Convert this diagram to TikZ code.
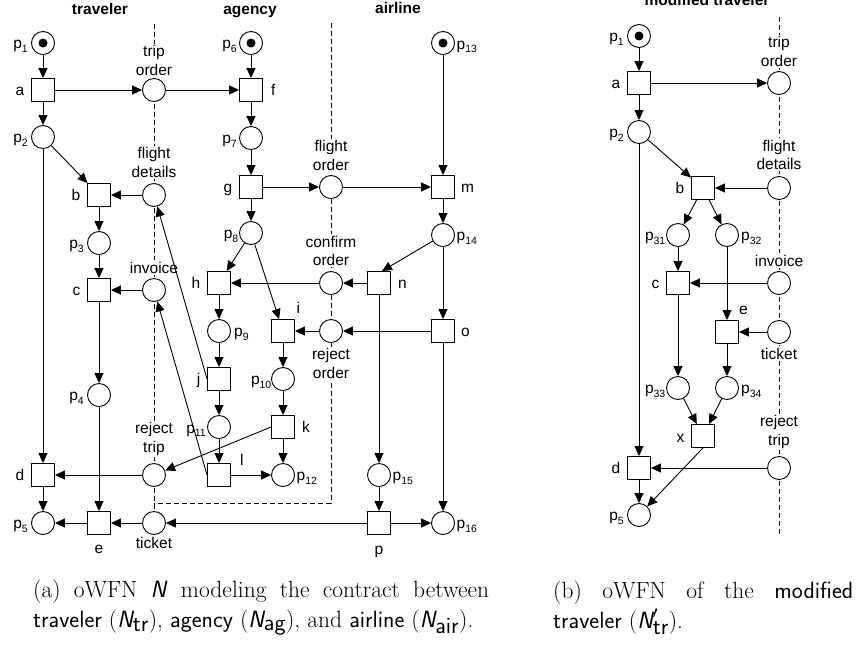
\documentclass[tikz,border=0pt]{standalone}
\usepackage{fontspec}
\newfontfamily\lab{Liberation Sans}
\usetikzlibrary{arrows.meta,calc}
\newcommand\pp[1]{p\raisebox{-3.5pt}{\fontsize{10.5}{10.5}\selectfont #1}}
\tikzset{
  place/.style={circle,draw,fill=white,minimum size=23pt,inner sep=0pt,line width=0.9pt},
  trans/.style={rectangle,draw,fill=white,minimum size=23pt,inner sep=0pt,line width=0.9pt},
  arc/.style={-{Triangle[length=10pt,width=9pt]},line width=0.9pt},
  iface/.style={line width=0.9pt,dash pattern=on 5pt off 3pt},
  lbl/.style={font=\lab\fontsize{15.5}{18.5}\selectfont,inner sep=0pt,align=center},
  ilbl/.style={lbl,fill=white,inner sep=1.5pt,anchor=base},
  ttl/.style={font=\lab\bfseries\fontsize{15.5}{18.5}\selectfont,inner sep=0pt,anchor=base},
}
\begin{document}
\begin{tikzpicture}[x=1pt,y=-1pt]
\useasboundingbox (0,0) rectangle (859,645);
% interface separators
\draw[iface] (154,24) -- (154,523);
\draw[iface] (331,23) -- (331,503) -- (154,503);
\draw[iface] (779,17) -- (779,535);
% titles
\node[ttl] (t1) at (100,14) {traveler};
\node[ttl] (t2) at (250,14) {agency};
\node[ttl] (t3) at (398,13) {airline};
\node[ttl] (t4) at (707,5.5) {modified traveler};
% ---- net (a)
\node[place] (p1) at (43,43) {};
\node[trans] (a) at (43,90) {};
\node[place] (to1) at (154,90) {};
\node[place] (p2) at (43,137) {};
\node[trans] (b) at (99,195) {};
\node[place] (fd1) at (154,195) {};
\node[place] (p3) at (99,243) {};
\node[trans] (c) at (99,290) {};
\node[place] (inv1) at (154,290) {};
\node[place] (p4) at (99,395) {};
\node[trans] (d) at (43,475) {};
\node[place] (rt1) at (154,475) {};
\node[place] (p5) at (43,523) {};
\node[trans] (e) at (99,523) {};
\node[place] (tk1) at (154,523) {};
\node[place] (p6) at (251,43) {};
\node[trans] (f) at (251,90) {};
\node[place] (p7) at (251,138) {};
\node[trans] (g) at (251,187) {};
\node[place] (fo) at (331,187) {};
\node[place] (p8) at (251,233) {};
\node[trans] (h) at (219,283) {};
\node[place] (co) at (331,283) {};
\node[trans] (i) at (283,331) {};
\node[place] (ro) at (331,331) {};
\node[place] (p9) at (219,331) {};
\node[trans] (j) at (219,379) {};
\node[place] (p10) at (283,379) {};
\node[place] (p11) at (219,427) {};
\node[trans] (k) at (283,427) {};
\node[trans] (l) at (219,475) {};
\node[place] (p12) at (283,475) {};
\node[place] (p13) at (443,43) {};
\node[trans] (m) at (443,187) {};
\node[place] (p14) at (443,235) {};
\node[trans] (n) at (379,283) {};
\node[trans] (o) at (443,331) {};
\node[place] (p15) at (379,475) {};
\node[trans] (p) at (379,523) {};
\node[place] (p16) at (443,523) {};
% tokens
\fill (p1) circle (4.5pt);
\fill (p6) circle (4.5pt);
\fill (p13) circle (4.5pt);
% labels (a)
\node[lbl,anchor=base east] (lp1) at (28,48.5) {\pp{1}};
\node[lbl,anchor=base east] (la) at (24.5,95) {a};
\node[lbl,anchor=base east] (lp2) at (28,142.5) {\pp{2}};
\node[lbl,anchor=base east] (lb) at (80.5,200) {b};
\node[lbl,anchor=base east] (lp3) at (84,248.5) {\pp{3}};
\node[lbl,anchor=base east] (lc) at (80.5,295) {c};
\node[lbl,anchor=base east] (lp4) at (84,400.5) {\pp{4}};
\node[lbl,anchor=base east] (ld) at (24.5,480) {d};
\node[lbl,anchor=base east] (lp5) at (28,528.5) {\pp{5}};
\node[lbl,anchor=base] (le) at (99,553) {e};
\node[lbl,anchor=base east] (lp6) at (237,48.5) {\pp{6}};
\node[lbl,anchor=base west] (lf) at (271,95) {f};
\node[lbl,anchor=base east] (lp7) at (237,143.5) {\pp{7}};
\node[lbl,anchor=base east] (lg) at (232.5,192) {g};
\node[lbl,anchor=base east] (lp8) at (238.5,238.5) {\pp{8}};
\node[lbl,anchor=base east] (lh) at (200.5,288) {h};
\node[lbl,anchor=base west] (lp9) at (234,336.5) {\pp{9}};
\node[lbl,anchor=base west] (li) at (296.5,313) {i};
\node[lbl,anchor=base east] (lj) at (200.5,384) {j};
\node[lbl,anchor=base east] (lp10) at (271.5,384.5) {\pp{10}};
\node[lbl,anchor=base east] (lp11) at (206,433) {\pp{11}};
\node[lbl,anchor=base west] (lk) at (302,432) {k};
\node[lbl,anchor=base west] (ll) at (240,465) {l};
\node[lbl,anchor=base west] (lp12) at (296.5,480.5) {\pp{12}};
\node[lbl,anchor=base west] (lp13) at (456.5,49) {\pp{13}};
\node[lbl,anchor=base west] (lm) at (461,192) {m};
\node[lbl,anchor=base west] (lp14) at (456.5,240.5) {\pp{14}};
\node[lbl,anchor=base west] (ln) at (398,288) {n};
\node[lbl,anchor=base west] (lo) at (461,336) {o};
\node[lbl,anchor=base west] (lp15) at (392.5,480.5) {\pp{15}};
\node[lbl,anchor=base] (lpp) at (379,554) {p};
\node[lbl,anchor=base west] (lp16) at (456.5,528.5) {\pp{16}};
\node[ilbl] (lto1) at (154,75) {trip\\order};
\node[ilbl] (lfd1) at (154,177) {flight\\details};
\node[ilbl] (linv1) at (154,273) {invoice};
\node[ilbl] (lrt1) at (154,452) {reject\\trip};
\node[ilbl] (ltk1) at (154,548) {ticket};
\node[ilbl] (lfo) at (331,170) {flight\\order};
\node[ilbl] (lco) at (331,265.5) {confirm\\order};
\node[ilbl] (lro) at (331,378) {reject\\order};
% arcs (a)
\draw[arc] (p1) -- (a);
\draw[arc] (a) -- (p2);
\draw[arc] (a) -- (to1);
\draw[arc] (to1) -- (f);
\draw[arc] (p6) -- (f);
\draw[arc] (f) -- (p7);
\draw[arc] (p7) -- (g);
\draw[arc] (g) -- (fo);
\draw[arc] (fo) -- (m);
\draw[arc] (p13) -- (m);
\draw[arc] (m) -- (p14);
\draw[arc] (g) -- (p8);
\draw[arc] (p2) -- (b);
\draw[arc] (p2) -- (d);
\draw[arc] (fd1) -- (b);
\draw[arc] (b) -- (p3);
\draw[arc] (p3) -- (c);
\draw[arc] (inv1) -- (c);
\draw[arc] (c) -- (p4);
\draw[arc] (p4) -- (e);
\draw[arc] (p8) -- (h);
\draw[arc] (p8) -- (i);
\draw[arc] (co) -- (h);
\draw[arc] (n) -- (co);
\draw[arc] (p14) -- ([xshift=3pt]n.north);
\draw[arc] (p14) -- (o);
\draw[arc] (o) -- (ro);
\draw[arc] (ro) -- (i);
\draw[arc] (h) -- (p9);
\draw[arc] (p9) -- (j);
\draw[arc] (j.west) -- (fd1);
\draw[arc] (i) -- (p10);
\draw[arc] (j) -- (p11);
\draw[arc] (p10) -- (k);
\draw[arc] (p11) -- (l);
\draw[arc] (l) -- (p12);
\draw[arc] (k) -- (p12);
\draw[arc] (k.west) -- (rt1);
\draw[arc] (l.west) -- (inv1);
\draw[arc] (rt1) -- (d);
\draw[arc] (d) -- (p5);
\draw[arc] (e) -- (p5);
\draw[arc] (tk1) -- (e);
\draw[arc] (p) -- (tk1);
\draw[arc] (p) -- (p16);
\draw[arc] (o) -- (p16);
\draw[arc] (n) -- (p15);
\draw[arc] (p15) -- (p);
% ---- net (b)
\node[place] (P1) at (639,36) {};
\node[trans] (A) at (639,83) {};
\node[place] (TO) at (779,83) {};
\node[place] (P2) at (639,132) {};
\node[trans] (B) at (703,188) {};
\node[place] (FD) at (779,188) {};
\node[place] (P31) at (678,235) {};
\node[place] (P32) at (727,235) {};
\node[trans] (C) at (678,283) {};
\node[place] (INV) at (779,283) {};
\node[trans] (E) at (727,332) {};
\node[place] (TK) at (779,332) {};
\node[place] (P33) at (678,388) {};
\node[place] (P34) at (727,388) {};
\node[trans] (X) at (703,436) {};
\node[place] (RT) at (779,468) {};
\node[trans] (D) at (639,468) {};
\node[place] (P5) at (639,515) {};
\fill (P1) circle (4.5pt);
% labels (b)
\node[lbl,anchor=base east] (lP1) at (624,41.5) {\pp{1}};
\node[lbl,anchor=base east] (lA) at (620.5,88) {a};
\node[lbl,anchor=base east] (lP2) at (624,137.5) {\pp{2}};
\node[lbl,anchor=base east] (lB) at (684.5,193) {b};
\node[lbl,anchor=base east] (lP31) at (665.5,240.5) {\pp{31}};
\node[lbl,anchor=base west] (lP32) at (741,240.5) {\pp{32}};
\node[lbl,anchor=base east] (lC) at (659.5,288) {c};
\node[lbl,anchor=base west] (lE) at (739,314) {e};
\node[lbl,anchor=base east] (lP33) at (665.5,393.5) {\pp{33}};
\node[lbl,anchor=base west] (lP34) at (741,393.5) {\pp{34}};
\node[lbl,anchor=base east] (lX) at (684.5,442) {x};
\node[lbl,anchor=base east] (lD) at (620.5,473) {d};
\node[lbl,anchor=base east] (lP5) at (624,520.5) {\pp{5}};
\node[ilbl] (lTO) at (779,66) {trip\\order};
\node[ilbl] (lFD) at (779,169.5) {flight\\details};
\node[ilbl] (lINV) at (779,266) {invoice};
\node[ilbl] (lTK) at (779,359) {ticket};
\node[ilbl] (lRT) at (779,445) {reject\\trip};
% arcs (b)
\draw[arc] (P1) -- (A);
\draw[arc] (A) -- (P2);
\draw[arc] (A) -- (TO);
\draw[arc] (P2) -- (B);
\draw[arc] (P2) -- (D);
\draw[arc] (FD) -- (B);
\draw[arc] (B) -- (P31);
\draw[arc] (B) -- (P32);
\draw[arc] (P31) -- (C);
\draw[arc] (INV) -- (C);
\draw[arc] (P32) -- (E);
\draw[arc] (TK) -- (E);
\draw[arc] (C) -- (P33);
\draw[arc] (E) -- (P34);
\draw[arc] (P33) -- (X);
\draw[arc] (P34) -- (X);
\draw[arc] (X.south) -- (P5);
\draw[arc] (RT) -- (D);
\draw[arc] (D) -- (P5);
% captions
\node[anchor=base west,inner sep=0pt] (capa) at (33,597) {\parbox[t]{456pt}{\fontsize{23.5}{30}\selectfont
(a) oWFN \textsf{\itshape N} modeling the contract between\linebreak
\textsf{traveler} ($\textsf{\itshape N}_{\textsf{tr}}$), \textsf{agency} ($\textsf{\itshape N}_{\textsf{ag}}$), and \textsf{airline} ($\textsf{\itshape N}_{\textsf{air}}$).}};
\node[anchor=base west,inner sep=0pt] (capb) at (553,598) {\parbox[t]{300pt}{\fontsize{23.5}{30}\selectfont
(b) oWFN of the \textsf{modified}\linebreak
\textsf{traveler} ($\textsf{\itshape N}'_{\textsf{tr}}$).}};
\end{tikzpicture}
\end{document}
